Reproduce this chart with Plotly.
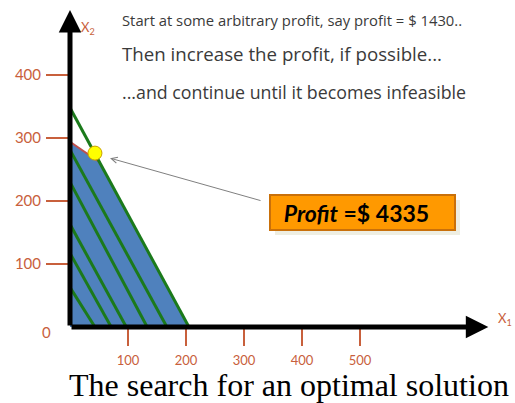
import plotly.graph_objects as go

# feasible region corners (x1, x2)
region_x = [0, 0, 52, 205, 0]
region_y = [0, 294, 261, 0, 0]

# iso-profit lines, given by their intercepts on each axis
iso_x_int = [43, 71, 97, 133, 167, 205]
iso_y_int = [63, 117, 163, 230, 281, 348]

# point where the profit line leaves the region
dot_x = [43]
dot_y = [276]

x_ticks = [100, 200, 300, 400, 500]
y_ticks = [100, 200, 300, 400]

notes = [
    ("Start at some arbitrary profit, say profit = $ 1430..", 14.8),
    ("Then increase the profit, if possible...", 18.7),
    ("...and continue until it becomes infeasible", 17.8),
]
profit_label = "&nbsp;&nbsp;<b><i>Profit</i> =$ 4335</b>"
title = "The search for an optimal solution"

TICK_RED = "#C8603C"
GREEN = "#1B7A1B"

fig = go.Figure()

fig.add_trace(go.Scatter(
    x=region_x, y=region_y, mode="lines", fill="toself",
    fillcolor="#4F81BD", line=dict(width=0), hoverinfo="skip",
))
# red top edge of the region
fig.add_trace(go.Scatter(
    x=region_x[1:3], y=region_y[1:3], mode="lines",
    line=dict(color="#C0504D", width=2), hoverinfo="skip",
))

for xi, yi in zip(iso_x_int, iso_y_int):
    fig.add_trace(go.Scatter(
        x=[0, xi], y=[yi, 0], mode="lines",
        line=dict(color=GREEN, width=3), hoverinfo="skip",
    ))

fig.add_trace(go.Scatter(
    x=dot_x, y=dot_y, mode="markers",
    marker=dict(size=14, color="#FFFF00", line=dict(color="#C9A000", width=1)),
    hoverinfo="skip",
))

annotations = []
# axes drawn as thick black arrows
annotations.append(dict(x=0, y=503, ax=0, ay=0, xref="x", yref="y", axref="x", ayref="y",
                        showarrow=True, arrowhead=2, arrowsize=0.9, arrowwidth=5,
                        arrowcolor="black", text=""))
annotations.append(dict(x=721, y=0, ax=0, ay=0, xref="x", yref="y", axref="x", ayref="y",
                        showarrow=True, arrowhead=2, arrowsize=0.9, arrowwidth=5,
                        arrowcolor="black", text=""))
# pointer from the label to the dot
annotations.append(dict(x=69, y=268, ax=331, ay=200, xref="x", yref="y", axref="x", ayref="y",
                        showarrow=True, arrowhead=5, arrowsize=1.2, arrowwidth=1,
                        arrowcolor="#808080", text=""))
annotations.append(dict(x=31, y=475, xref="x", yref="y", text="X<sub>2</sub>", showarrow=False,
                        font=dict(family="Lato", size=13, color=TICK_RED)))
annotations.append(dict(x=750, y=12, xref="x", yref="y", text="X<sub>1</sub>", showarrow=False,
                        font=dict(family="Lato", size=13, color=TICK_RED)))
annotations.append(dict(x=-0.052, y=0, xref="paper", yref="y", text="0", showarrow=False,
                        xanchor="center", yanchor="middle", yshift=-5,
                        font=dict(family="Lato", size=15, color=TICK_RED)))

for (txt, size), ypos in zip(notes, [0.939, 0.835, 0.719]):
    annotations.append(dict(x=0.113, y=ypos, xref="paper", yref="paper", text=txt,
                            showarrow=False, xanchor="left", yanchor="middle",
                            font=dict(family="Open Sans", size=size, color="#3a3a3a")))

# soft shadow behind the label box
annotations.append(dict(x=0.658, y=0.349, xref="paper", yref="paper", text="",
                        showarrow=False, width=183, height=33, xshift=5, yshift=-5,
                        bgcolor="#EEEEE2", borderwidth=0))
annotations.append(dict(x=0.658, y=0.349, xref="paper", yref="paper", text=profit_label,
                        showarrow=False, width=181, height=31, align="left",
                        bgcolor="#FF9900", bordercolor="#C9700A", borderwidth=2, borderpad=1,
                        font=dict(family="Lato", size=23, color="black")))

annotations.append(dict(x=0.492, y=-0.177, xref="paper", yref="paper", text=title,
                        showarrow=False, yanchor="middle",
                        font=dict(family="Liberation Serif", size=32, color="black")))

fig.update_layout(
    width=515, height=403,
    margin=dict(l=70, r=0, t=0, b=76),
    plot_bgcolor="white", paper_bgcolor="white",
    showlegend=False,
    annotations=annotations,
    xaxis=dict(range=[0, 767], tickvals=x_ticks, ticks="outside", ticklen=18,
               tickcolor=TICK_RED, tickwidth=1.5, showgrid=False, zeroline=False,
               showline=False, ticklabelstandoff=3,
               tickfont=dict(family="Lato", size=13, color=TICK_RED)),
    yaxis=dict(range=[0, 519], tickvals=y_ticks, ticks="outside", ticklen=23,
               tickcolor=TICK_RED, tickwidth=1.5, showgrid=False, zeroline=False,
               showline=False, ticklabelstandoff=2,
               tickfont=dict(family="Lato", size=15, color=TICK_RED)),
)

fig.write_html("out.html", config={"displayModeBar": False},
               post_script="document.body.style.margin='0';")
